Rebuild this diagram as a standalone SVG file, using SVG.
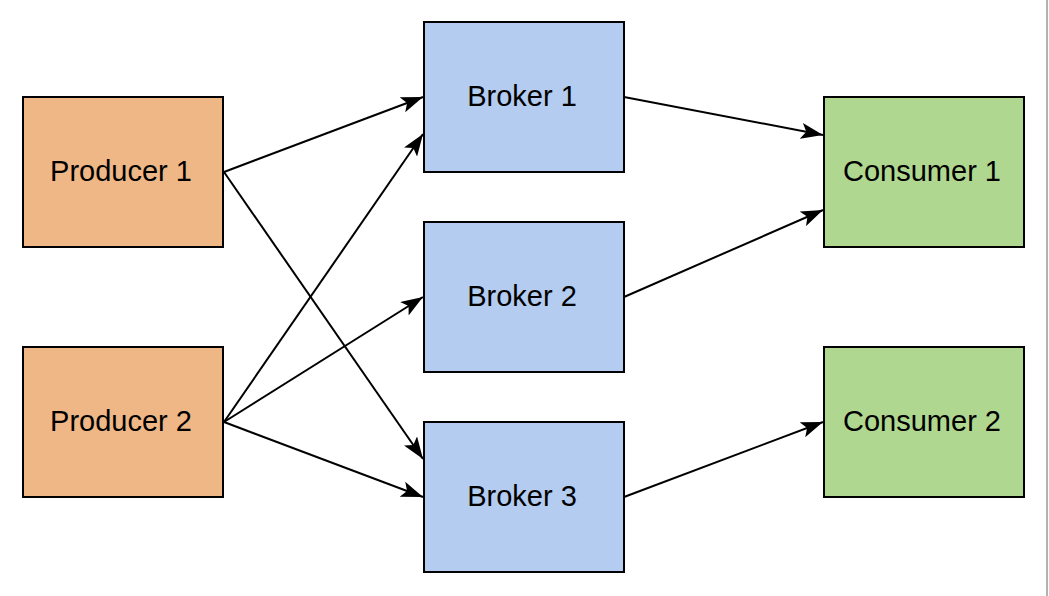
<svg xmlns="http://www.w3.org/2000/svg" width="1049" height="596" viewBox="0 0 1049 596">
<style>
.box{stroke:#000;stroke-width:2}
.p{fill:#EFB786}.b{fill:#B3CCF0}.c{fill:#B0D78F}
text{font-family:"Liberation Sans",Arial,sans-serif;font-size:29px;fill:#000;text-anchor:middle}
.e{stroke:#000;stroke-width:2;fill:none;marker-end:url(#arr)}
</style>
<defs>
<marker id="arr" markerUnits="userSpaceOnUse" markerWidth="24" markerHeight="16" viewBox="0 0 24 16" refX="22" refY="8" orient="auto">
<path d="M0,0 L22,8 L0,16 L5,8 Z" fill="#000"/>
</marker>
</defs>
<rect width="1049" height="596" fill="#fff"/>
<line x1="1047" y1="0" x2="1047" y2="596" stroke="#999" stroke-width="1.5"/>
<g id="connectors">
<line class="e" x1="224" y1="172" x2="423" y2="97"/>
<line class="e" x1="224" y1="172" x2="423" y2="459"/>
<line class="e" x1="224" y1="422" x2="423" y2="134"/>
<line class="e" x1="224" y1="422" x2="423" y2="297"/>
<line class="e" x1="224" y1="422" x2="423" y2="497"/>
<line class="e" x1="624" y1="97" x2="823" y2="135"/>
<line class="e" x1="624" y1="297" x2="823" y2="210"/>
<line class="e" x1="624" y1="497" x2="823" y2="422"/>
</g>
<g id="producer1"><rect class="box p" x="23" y="97" width="200" height="150"/><text x="121" y="181">Producer 1</text></g>
<g id="producer2"><rect class="box p" x="23" y="347" width="200" height="150"/><text x="121" y="431">Producer 2</text></g>
<g id="broker1"><rect class="box b" x="424" y="22" width="200" height="150"/><text x="522" y="106">Broker 1</text></g>
<g id="broker2"><rect class="box b" x="424" y="222" width="200" height="150"/><text x="522" y="306">Broker 2</text></g>
<g id="broker3"><rect class="box b" x="424" y="422" width="200" height="150"/><text x="522" y="506">Broker 3</text></g>
<g id="consumer1"><rect class="box c" x="824" y="97" width="200" height="150"/><text x="922" y="181">Consumer 1</text></g>
<g id="consumer2"><rect class="box c" x="824" y="347" width="200" height="150"/><text x="922" y="431">Consumer 2</text></g>
</svg>
